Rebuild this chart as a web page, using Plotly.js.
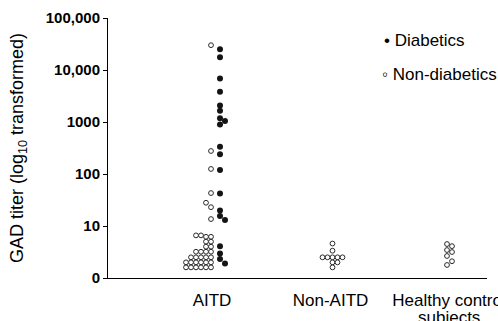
<!DOCTYPE html>
<html><head><meta charset="utf-8">
<script src="https://cdn.plot.ly/plotly-3.0.1.min.js"></script>
<style>html,body{margin:0;padding:0;background:#fff}#chart{width:498px;height:321px}</style>
</head><body><div id="chart"></div>
<script>
// ---- data ----
const categories = ["AITD", "Non-AITD", "Healthy control"];
const aitdNonDiabetic = [30000, 277, 125, 43, 28, 23, 13.6,
  6.6, 6.6, 6.2, 6.2, 5, 5, 4, 4, 3.2, 3.2, 3.2, 3.2,
  2.5, 2.5, 2.5, 2.5, 2.5, 2, 2, 2, 2, 2, 2, 1.6, 1.6, 1.6, 1.6, 1.6, 1.6];
const aitdDiabetic = [25000, 17500, 6900, 3800, 2080, 1640, 1180, 1050, 900, 335, 240,
  120, 42, 19.9, 15.6, 13, 4.1, 2.96, 2.32, 1.9];
const nonAitdNonDiabetic = [4.6, 3.35, 2.5, 2.5, 2.5, 2.5, 2.5, 2, 2, 1.6];
const healthyNonDiabetic = [4.5, 4.1, 3.45, 3.16, 2.65, 2.1, 1.78];
const yTickVals = [1, 10, 100, 1000, 10000, 100000];
const yTickText = ["0", "10", "100", "1000", "10,000", "100,000"];

// ---- layout geometry ----
const W = 498, H = 321, M = {l: 108, r: 11, t: 18, b: 43, pad: 0};
const xRange = [0.1224, 3.3207], yRange = [0, 5];
const pxX = (W - M.l - M.r) / (xRange[1] - xRange[0]);
const pxY = (H - M.t - M.b) / (yRange[1] - yRange[0]);
const STEP = 5, MIN_GAP = 4.8;

// simple dot-plot swarm: points that would overlap are shifted sideways
function swarm(placed, catIdx, values, basePx, side, ascending) {
  const idx = values.map((v, i) => i).sort((a, b) => ascending ? values[a] - values[b] : values[b] - values[a]);
  const xs = new Array(values.length);
  idx.forEach(i => {
    const y = -Math.log10(values[i]) * pxY;
    for (let k = 0; k < 200; k++) {
      let off;
      if (side === 0) off = (k === 0 ? 0 : (k % 2 === 1 ? 1 : -1) * Math.ceil(k / 2)) * STEP;
      else off = side * k * STEP;
      const x = basePx + off;
      if (placed.every(p => Math.hypot(p.x - x, p.y - y) >= MIN_GAP)) {
        placed.push({x, y});
        xs[i] = (catIdx + 1) + x / pxX;
        break;
      }
    }
  });
  return xs;
}

const pA = [], pN = [], pH = [];
const xAopen = swarm(pA, 0, aitdNonDiabetic, -1, -1, true);
const xAfill = swarm(pA, 0, aitdDiabetic, 8, 1, false);
const xNopen = swarm(pN, 1, nonAitdNonDiabetic, 2, 0, true);
const xHopen = swarm(pH, 2, healthyNonDiabetic, -2, 0, true);

const openX = xAopen.concat(xNopen, xHopen);
const openY = aitdNonDiabetic.concat(nonAitdNonDiabetic, healthyNonDiabetic);

const font = "Liberation Sans, Arial, Helvetica, sans-serif";
const traces = [
  {type: "scatter", mode: "markers", name: "Non-diabetics", x: openX, y: openY,
   marker: {symbol: "circle", size: 4.8, color: "#ffffff", line: {color: "#2a2a2a", width: 1}},
   showlegend: false, hoverinfo: "y"},
  {type: "scatter", mode: "markers", name: "Diabetics", x: xAfill, y: aitdDiabetic,
   marker: {symbol: "circle", size: 6, color: "#141414", line: {width: 0}},
   showlegend: false, hoverinfo: "y"}
];

const layout = {
  width: W, height: H, margin: M,
  paper_bgcolor: "#fff", plot_bgcolor: "#fff",
  font: {family: font, color: "#000", size: 17},
  showlegend: false,
  xaxis: {range: xRange, tickmode: "array", tickvals: [1, 2, 3], ticktext: categories,
    showgrid: false, zeroline: false, showline: true, linecolor: "#000", linewidth: 1.2,
    ticks: "", ticklabelstandoff: 6, ticklabeloverflow: "allow",
    tickfont: {family: font, size: 17, color: "#000"}, fixedrange: true},
  yaxis: {type: "log", range: yRange, tickmode: "array", tickvals: yTickVals, ticktext: yTickText,
    showgrid: false, zeroline: false, showline: true, linecolor: "#000", linewidth: 1,
    ticks: "outside", ticklen: 4, tickwidth: 1, tickcolor: "#000",
    tickfont: {family: font, size: 15, color: "#000", weight: "bold"},
    title: {text: "GAD titer (log<sub>10</sub> transformed)", font: {family: font, size: 18, color: "#000"}, standoff: 17},
    fixedrange: true},
  annotations: [
    {xref: "paper", yref: "paper", x: 0.724, y: 0.915, xanchor: "left", yanchor: "middle",
     text: "• Diabetics", showarrow: false, font: {family: font, size: 17, color: "#000"}},
    {xref: "paper", yref: "paper", x: 0.718, y: 0.781, xanchor: "left", yanchor: "middle",
     text: "◦ Non-diabetics", showarrow: false, font: {family: font, size: 17, color: "#000"}},
    {xref: "x", yref: "paper", x: 3, y: -0.106, xanchor: "center", yanchor: "top",
     text: "subjects", showarrow: false, font: {family: font, size: 17, color: "#000"}}
  ]
};

Plotly.newPlot("chart", traces, layout, {displayModeBar: false, staticPlot: true});
</script></body></html>
